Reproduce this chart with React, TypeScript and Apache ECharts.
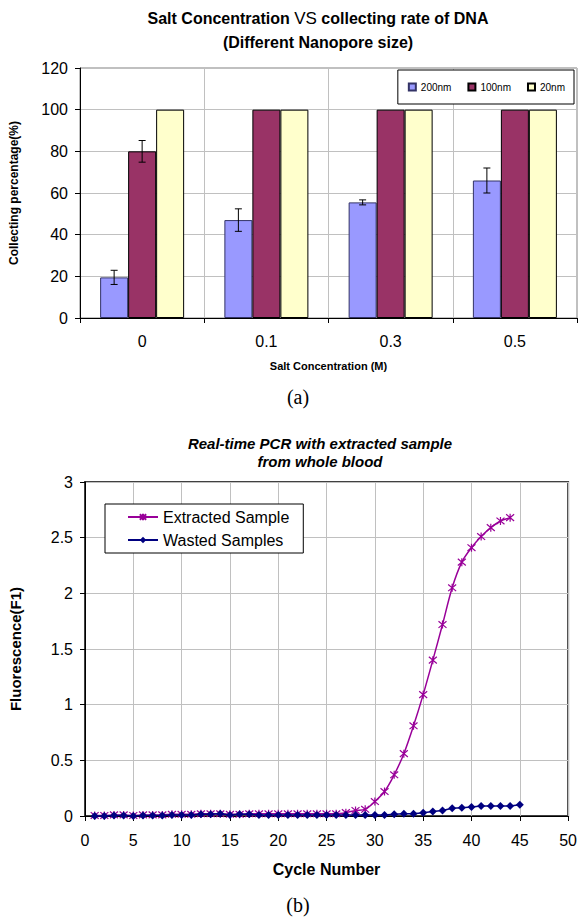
import React, { useEffect, useRef } from 'react';
import * as echarts from 'echarts';

// ---------- Chart (a) data ----------
const SALT_CATEGORIES = ['0', '0.1', '0.3', '0.5'];
const PORE_200NM = [19.5, 47, 55.5, 66];
const PORE_200NM_ERR = [3.4, 5.4, 1.2, 6];
const PORE_100NM = [80, 100, 100, 100];
const PORE_100NM_ERR = [5.2, 0, 0, 0];
const PORE_20NM = [100, 100, 100, 100];
const PCT_MIN = 0;
const PCT_MAX = 120;
const PCT_STEP = 20;

// ---------- Chart (b) data ----------
const EXTRACTED_CYCLES = [1, 2, 3, 4, 5, 6, 7, 8, 9, 10, 11, 12, 13, 14, 15, 16, 17, 18, 19, 20, 21, 22, 23, 24, 25, 26, 27, 28, 29, 30, 31, 32, 33, 34, 35, 36, 37, 38, 39, 40, 41, 42, 43, 44];
const EXTRACTED_VALUES = [0.005, 0.005, 0.01, 0.01, 0.005, 0.01, 0.01, 0.01, 0.015, 0.015, 0.015, 0.02, 0.02, 0.02, 0.015, 0.015, 0.02, 0.02, 0.02, 0.02, 0.02, 0.02, 0.02, 0.02, 0.02, 0.02, 0.03, 0.05, 0.06, 0.13, 0.22, 0.37, 0.56, 0.81, 1.09, 1.4, 1.72, 2.05, 2.28, 2.41, 2.51, 2.59, 2.65, 2.68];
const WASTED_CYCLES = [1, 2, 3, 4, 5, 6, 7, 8, 9, 10, 11, 12, 13, 14, 15, 16, 17, 18, 19, 20, 21, 22, 23, 24, 25, 26, 27, 28, 29, 30, 31, 32, 33, 34, 35, 36, 37, 38, 39, 40, 41, 42, 43, 44, 45];
const WASTED_VALUES = [0, 0, 0.005, 0.005, 0, 0.005, 0.005, 0.005, 0.01, 0.01, 0.01, 0.015, 0.015, 0.02, 0.01, 0.015, 0.015, 0.01, 0.01, 0.01, 0.01, 0.01, 0.01, 0.01, 0.01, 0.01, 0.01, 0.01, 0.01, 0.01, 0.01, 0.015, 0.02, 0.02, 0.03, 0.04, 0.05, 0.07, 0.075, 0.08, 0.09, 0.09, 0.09, 0.09, 0.1];
const CYCLE_MIN = 0;
const CYCLE_MAX = 50;
const CYCLE_STEP = 5;
const FLUOR_MIN = 0;
const FLUOR_MAX = 3;
const FLUOR_STEP = 0.5;

const SANS = '"Liberation Sans", Arial, sans-serif';
const SERIF = '"Liberation Serif", "Times New Roman", serif';
const BAR_W = 28;
const GRID_GRAY = '#c0c0c0';

const ASTERISK = 'path://M0,0 L10,10 M10,0 L0,10 M5,-1 L5,11';

function errorSeries(values: number[], errs: number[], slot: number) {
  return {
    type: 'custom',
    xAxisIndex: 0,
    yAxisIndex: 0,
    z: 5,
    silent: true,
    encode: { x: 0, y: 1 },
    data: values.map((v, i) => [i, v, errs[i]]),
    renderItem: (params: any, api: any) => {
      const i = api.value(0);
      const v = api.value(1);
      const e = api.value(2);
      if (!e) return { type: 'group', children: [] };
      const cx = api.coord([i, v])[0] + slot * BAR_W;
      const yTop = api.coord([i, v + e])[1];
      const yBot = api.coord([i, v - e])[1];
      const st = { stroke: '#000', lineWidth: 1 };
      return {
        type: 'group',
        children: [
          { type: 'line', shape: { x1: cx, y1: yTop, x2: cx, y2: yBot }, style: st },
          { type: 'line', shape: { x1: cx - 3.5, y1: yTop, x2: cx + 3.5, y2: yTop }, style: st },
          { type: 'line', shape: { x1: cx - 3.5, y1: yBot, x2: cx + 3.5, y2: yBot }, style: st },
        ],
      };
    },
  };
}

export default function App() {
  const ref = useRef<HTMLDivElement>(null);
  useEffect(() => {
    if (!ref.current) return;
    const chart = echarts.init(ref.current, null, { renderer: 'svg' });
    const axisLine = { show: true, lineStyle: { color: '#000', width: 1 } };
    const axisTick = { show: true, inside: false, length: 5, lineStyle: { color: '#000' } };
    const option: any = {
      animation: false,
      backgroundColor: '#fff',
      textStyle: { fontFamily: SANS },
      graphic: [
        {
          type: 'text', x: 318, y: 18,
          style: {
            text: '{b|Salt Concentration }{n|VS}{b| collecting rate of DNA}',
            textAlign: 'center', textVerticalAlign: 'middle',
            rich: {
              b: { font: `bold 16px ${SANS}`, fill: '#000' },
              n: { font: `17px ${SANS}`, fill: '#000' },
            },
          },
        },
        {
          type: 'text', x: 318, y: 42,
          style: { text: '(Different Nanopore size)', font: `bold 16px ${SANS}`, fill: '#000', textAlign: 'center', textVerticalAlign: 'middle' },
        },
        {
          type: 'text', x: 298, y: 397,
          style: { text: '(a)', font: `20px ${SERIF}`, fill: '#000', textAlign: 'center', textVerticalAlign: 'middle' },
        },
        {
          type: 'text', x: 320, y: 443,
          style: { text: 'Real-time PCR with extracted sample', font: `italic bold 15px ${SANS}`, fill: '#000', textAlign: 'center', textVerticalAlign: 'middle' },
        },
        {
          type: 'text', x: 320, y: 461,
          style: { text: 'from whole blood', font: `italic bold 15px ${SANS}`, fill: '#000', textAlign: 'center', textVerticalAlign: 'middle' },
        },
        {
          type: 'text', x: 298, y: 905,
          style: { text: '(b)', font: `20px ${SERIF}`, fill: '#000', textAlign: 'center', textVerticalAlign: 'middle' },
        },
      ],
      legend: [
        {
          data: ['200nm', '100nm', '20nm'],
          right: 6, top: 70,
          icon: 'rect', itemWidth: 7, itemHeight: 7, itemGap: 16,
          textStyle: { fontSize: 10, color: '#000', fontFamily: SANS },
          borderColor: '#000', borderWidth: 1, backgroundColor: '#fff',
          padding: [12, 9, 12, 10],
        },
        {
          data: ['Extracted Sample', 'Wasted Samples'],
          orient: 'vertical', left: 105, top: 504,
          itemWidth: 30, itemHeight: 8, itemGap: 7,
          textStyle: { fontSize: 16, color: '#000', fontFamily: SANS },
          borderColor: '#000', borderWidth: 1, backgroundColor: '#fff',
          padding: [5, 14, 5, 22],
        },
      ],
      grid: [
        { left: 80, top: 68, width: 497, height: 250, show: true, borderColor: '#808080', borderWidth: 1, backgroundColor: '#fff', containLabel: false },
        { left: 79, top: 482, width: 491, height: 334, show: true, borderColor: '#404040', borderWidth: 2, backgroundColor: '#fff', containLabel: false },
      ],
      xAxis: [
        {
          gridIndex: 0, type: 'category', data: SALT_CATEGORIES,
          axisLine, axisTick,
          axisLabel: { fontSize: 16, color: '#000', margin: 15, fontFamily: SANS },
          splitLine: { show: true, lineStyle: { color: GRID_GRAY } },
          name: 'Salt Concentration (M)', nameLocation: 'middle', nameGap: 42,
          nameTextStyle: { fontSize: 11, fontWeight: 'bold', color: '#000', fontFamily: SANS },
        },
        {
          gridIndex: 1, type: 'value', min: CYCLE_MIN, max: CYCLE_MAX, interval: CYCLE_STEP,
          axisLine, axisTick,
          axisLabel: { fontSize: 16, color: '#000', margin: 16, fontFamily: SANS },
          splitLine: { show: true, lineStyle: { color: GRID_GRAY } },
          name: 'Cycle Number', nameLocation: 'middle', nameGap: 45,
          nameTextStyle: { fontSize: 16, fontWeight: 'bold', color: '#000', fontFamily: SANS },
        },
      ],
      yAxis: [
        {
          gridIndex: 0, type: 'value', min: PCT_MIN, max: PCT_MAX, interval: PCT_STEP,
          axisLine, axisTick,
          axisLabel: { fontSize: 16, color: '#000', margin: 12, fontFamily: SANS },
          splitLine: { show: true, lineStyle: { color: GRID_GRAY } },
          name: 'Collecting percentage(%)', nameLocation: 'middle', nameGap: 60,
          nameTextStyle: { fontSize: 12, fontWeight: 'bold', color: '#000', fontFamily: SANS },
        },
        {
          gridIndex: 1, type: 'value', min: FLUOR_MIN, max: FLUOR_MAX, interval: FLUOR_STEP,
          axisLine, axisTick,
          axisLabel: { fontSize: 16, color: '#000', margin: 12, fontFamily: SANS },
          splitLine: { show: true, lineStyle: { color: GRID_GRAY } },
          name: 'Fluorescence(F1)', nameLocation: 'middle', nameGap: 62,
          nameTextStyle: { fontSize: 15, fontWeight: 'bold', color: '#000', fontFamily: SANS },
        },
      ],
      series: [
        {
          name: '200nm', type: 'bar', xAxisIndex: 0, yAxisIndex: 0, data: PORE_200NM,
          barWidth: BAR_W, barGap: '0%',
          itemStyle: { color: '#9999ff', borderColor: '#333366', borderWidth: 1 },
        },
        {
          name: '100nm', type: 'bar', xAxisIndex: 0, yAxisIndex: 0, data: PORE_100NM,
          barWidth: BAR_W, barGap: '0%',
          itemStyle: { color: '#993366', borderColor: '#000', borderWidth: 1 },
        },
        {
          name: '20nm', type: 'bar', xAxisIndex: 0, yAxisIndex: 0, data: PORE_20NM,
          barWidth: BAR_W, barGap: '0%',
          itemStyle: { color: '#ffffcc', borderColor: '#000', borderWidth: 1 },
        },
        errorSeries(PORE_200NM, PORE_200NM_ERR, -1),
        errorSeries(PORE_100NM, PORE_100NM_ERR, 0),
        {
          name: 'Extracted Sample', type: 'line', xAxisIndex: 1, yAxisIndex: 1,
          data: EXTRACTED_CYCLES.map((c, i) => [c, EXTRACTED_VALUES[i]]),
          smooth: 0.3,
          symbol: ASTERISK, symbolSize: 8, showAllSymbol: true,
          lineStyle: { color: '#990099', width: 1.5 },
          itemStyle: { color: 'rgba(0,0,0,0)', borderColor: '#990099', borderWidth: 1.2 },
        },
        {
          name: 'Wasted Samples', type: 'line', xAxisIndex: 1, yAxisIndex: 1,
          data: WASTED_CYCLES.map((c, i) => [c, WASTED_VALUES[i]]),
          symbol: 'diamond', symbolSize: 8, showAllSymbol: true,
          lineStyle: { color: '#000080', width: 1.5 },
          itemStyle: { color: '#000080' },
        },
      ],
    };
    chart.setOption(option);
    return () => chart.dispose();
  }, []);
  return <div ref={ref} style={{ position: 'fixed', left: 0, top: 0, width: 580, height: 921 }} />;
}
